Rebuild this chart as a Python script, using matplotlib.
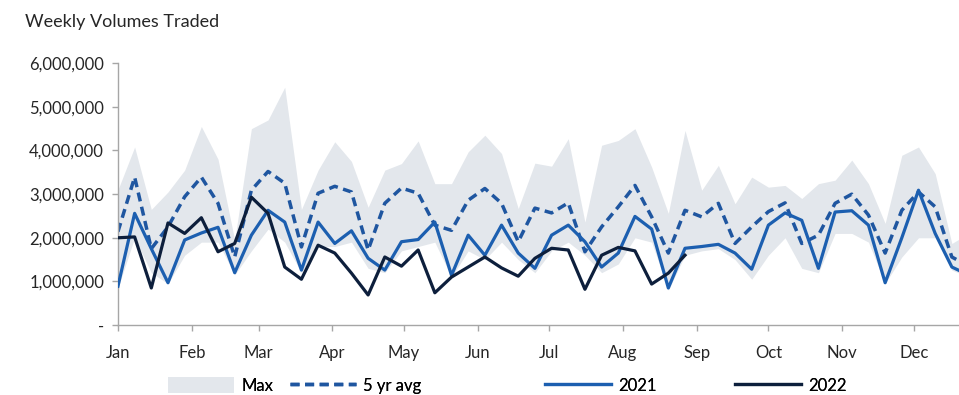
import matplotlib.pyplot as plt
import matplotlib.dates as mdates
import matplotlib.ticker as mticker
import pandas as pd

# Weekly values, in millions
max_vals = [3.1, 4.08, 2.65, 3.05, 3.55, 4.55, 3.8, 1.95, 4.5, 4.7,
            5.45, 2.65, 3.55, 4.2, 3.75, 2.7, 3.55, 3.7, 4.22, 3.24,
            3.24, 3.97, 4.35, 3.93, 2.67, 3.71, 3.64, 4.27, 2.36, 4.12,
            4.23, 4.5, 3.62, 2.56, 4.46, 3.09, 3.66, 2.78, 3.39, 3.16,
            3.2, 2.9, 3.24, 3.32, 3.78, 3.24, 2.33, 3.89, 4.08, 3.47,
            1.87, 2.1]
min_vals = [0.85, 2.0, 1.2, 0.95, 1.6, 1.9, 1.9, 1.15, 1.7, 2.2,
            1.9, 1.2, 1.8, 1.8, 1.9, 1.3, 1.2, 1.7, 1.8, 1.9,
            1.1, 1.7, 1.5, 1.9, 1.5, 1.2, 1.7, 1.9, 1.6, 1.2,
            1.4, 2.0, 1.9, 0.8, 1.6, 1.7, 1.75, 1.5, 1.05, 1.6,
            2.0, 1.3, 1.2, 2.1, 2.1, 1.9, 0.95, 1.56, 2.0, 2.0,
            1.26, 1.1]
avg_5yr = [2.14, 3.39, 1.75, 2.25, 2.94, 3.39, 2.79, 1.56, 3.09, 3.52,
           3.25, 1.79, 3.02, 3.18, 3.05, 1.72, 2.79, 3.14, 3.02, 2.29,
           2.17, 2.86, 3.13, 2.79, 1.91, 2.68, 2.57, 2.8, 1.68, 2.25,
           2.71, 3.2, 2.48, 1.65, 2.63, 2.48, 2.79, 1.87, 2.25, 2.6,
           2.8, 1.87, 2.06, 2.79, 3.0, 2.52, 1.65, 2.63, 3.05, 2.71,
           1.56, 1.35]
vol_2021 = [0.89, 2.56, 1.75, 0.97, 1.95, 2.11, 2.24, 1.2, 2.06, 2.63,
            2.36, 1.26, 2.36, 1.87, 2.16, 1.53, 1.26, 1.91, 1.96, 2.36,
            1.14, 2.06, 1.6, 2.29, 1.65, 1.3, 2.06, 2.29, 1.91, 1.33,
            1.65, 2.49, 2.2, 0.85, 1.76, 1.8, 1.85, 1.65, 1.28, 2.29,
            2.57, 2.4, 1.3, 2.59, 2.62, 2.29, 0.97, 2.0, 3.09, 2.1,
            1.33, 1.15]
vol_2022 = [2.0, 2.02, 0.85, 2.34, 2.1, 2.46, 1.68, 1.87, 2.93, 2.56,
            1.33, 1.05, 1.83, 1.65, 1.19, 0.69, 1.56, 1.35, 1.72, 0.74,
            1.1, 1.33, 1.56, 1.31, 1.12, 1.53, 1.76, 1.72, 0.82, 1.6,
            1.78, 1.7, 0.94, 1.19, 1.6]

weeks = pd.date_range("2022-01-01", periods=len(avg_5yr), freq="7D")
M = 1_000_000


def main():
    plt.rcParams["font.family"] = ["Lato", "DejaVu Sans"]

    fig = plt.figure(figsize=(9.59, 3.95), dpi=100)
    ax = fig.add_axes([0.123, 0.177, 0.877, 0.663])

    # Max/min band
    ax.fill_between(weeks, [v * M for v in min_vals], [v * M for v in max_vals],
                    color="#E3E7EC", linewidth=0, label="Max", zorder=1)
    ax.plot(weeks, [v * M for v in avg_5yr], color="#1F56A0", linewidth=2.5,
            dashes=(2.6, 1.6), label="5 yr avg", zorder=2)
    ax.plot(weeks, [v * M for v in vol_2021], color="#1C5FB0", linewidth=2.3,
            label="2021", zorder=3)
    ax.plot(weeks[:len(vol_2022)], [v * M for v in vol_2022], color="#0D1F3C",
            linewidth=2.3, label="2022", zorder=4)

    ax.set_ylim(0, 6 * M)
    ax.set_xlim(pd.Timestamp("2022-01-01"), pd.Timestamp("2022-12-20"))
    ax.yaxis.set_major_locator(mticker.MultipleLocator(M))
    ax.yaxis.set_major_formatter(
        mticker.FuncFormatter(lambda v, p: "-" if v == 0 else f"{int(v):,}"))
    ax.xaxis.set_major_locator(mdates.MonthLocator())
    ax.xaxis.set_major_formatter(mdates.DateFormatter("%b"))

    for side in ["top", "right"]:
        ax.spines[side].set_visible(False)
    for side in ["left", "bottom"]:
        ax.spines[side].set_color("#A6A6A6")
        ax.spines[side].set_linewidth(1.0)
    ax.tick_params(axis="both", colors="#A6A6A6", labelcolor="#262626",
                   labelsize=12, length=4, width=1)
    ax.tick_params(axis="y", pad=6)
    ax.tick_params(axis="x", pad=10)

    fig.text(0.026, 0.945, "Weekly Volumes Traded", fontsize=13,
             color="#262626", ha="left", va="center")

    # legend entries sit at uneven spacing in the original, so one legend each
    handles, labels = ax.get_legend_handles_labels()
    legend_x = [0.175, 0.302, 0.568, 0.766]
    for h, l, x in zip(handles, labels, legend_x):
        leg = fig.legend([h], [l], loc="center left", bbox_to_anchor=(x, 0.024),
                         frameon=False, fontsize=12, handlelength=4.0,
                         handletextpad=0.4, borderpad=0, borderaxespad=0,
                         handleheight=1.1)
        fig.add_artist(leg)

    fig.savefig("out.png", dpi=100)


if __name__ == "__main__":
    main()
